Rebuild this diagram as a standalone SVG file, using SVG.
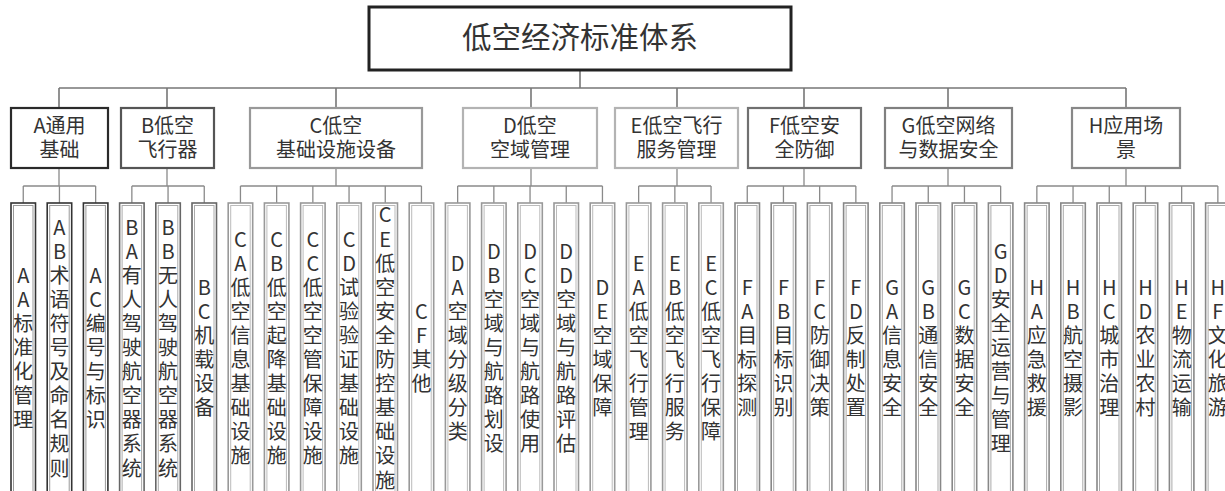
<svg xmlns="http://www.w3.org/2000/svg" width="1225" height="491" viewBox="0 0 1225 491">
<style>
text{font-family:"Noto Sans CJK SC","Noto Sans",sans-serif;fill:#333;text-anchor:middle}
.title{font-size:29.5px}
.cat{font-size:20px}
.lt{font-size:20px}
.conn{fill:none;stroke:#777;stroke-width:1.6}
.lconn{fill:none;stroke:#8a8a8a;stroke-width:1.3}
.cbox{fill:#fff;stroke-width:2.2}
.o{fill:#fff;stroke-width:1.6}
.i{fill:none;stroke-width:1}
.ga .o{stroke:#333}.ga .i{stroke:#999}
.gb .o{stroke:#666}.gb .i{stroke:#aaa}
.gc .o{stroke:#999}.gc .i{stroke:#bbb}
.gf .o{stroke:#888}.gf .i{stroke:#aaa}
</style>
<rect width="1225" height="491" fill="#fff"/>
<g id="connectors">
<path class="conn" d="M580 70V88M59 88H1126M59 88V108M167 88V108M336 88V108M531 88V108M677 88V108M804 88V108M948 88V108M1126 88V108"/>
<path class="lconn" d="M59 168V186M23.25 186H95.65M23.25 186V203M59.45 186V203M95.65 186V203
M167 168V186M131.85 186H204.25M131.85 186V203M168.05 186V203M204.25 186V203
M336 168V186M240.45 186H421.45M240.45 186V203M276.65 186V203M312.85 186V203M349.05 186V203M385.25 186V203M421.45 186V203
M531 168V186M457.65 186H602.45M457.65 186V203M493.85 186V203M530.05 186V203M566.25 186V203M602.45 186V203
M677 168V186M638.65 186H711.05M638.65 186V203M674.85 186V203M711.05 186V203
M804 168V186M747.25 186H855.85M747.25 186V203M783.45 186V203M819.65 186V203M855.85 186V203
M948 168V186M892.05 186H1000.65M892.05 186V203M928.25 186V203M964.45 186V203M1000.65 186V203
M1126 168V186M1036.85 186H1217.85M1036.85 186V203M1073.05 186V203M1109.25 186V203M1145.45 186V203M1181.65 186V203M1217.85 186V203"/>
</g>
<g id="root">
<rect x="369" y="7" width="422" height="63" fill="#fff" stroke="#222" stroke-width="3"/>
<text class="title" x="580" y="48">低空经济标准体系</text>
</g>
<g id="A"><rect class="cbox" x="11" y="108" width="97" height="60" stroke="#2a2a2a"/><text class="cat" x="59.5" y="133">A通用</text><text class="cat" x="59.5" y="157">基础</text></g>
<g id="B"><rect class="cbox" x="121" y="108" width="93" height="60" stroke="#555"/><text class="cat" x="167.5" y="133">B低空</text><text class="cat" x="167.5" y="157">飞行器</text></g>
<g id="C"><rect class="cbox" x="250" y="108" width="172" height="60" stroke="#999"/><text class="cat" x="336" y="133">C低空</text><text class="cat" x="336" y="157">基础设施设备</text></g>
<g id="D"><rect class="cbox" x="463" y="108" width="134" height="60" stroke="#b3b3b3"/><text class="cat" x="530" y="133">D低空</text><text class="cat" x="530" y="157">空域管理</text></g>
<g id="E"><rect class="cbox" x="615" y="108" width="123" height="60" stroke="#b3b3b3"/><text class="cat" x="676.5" y="133">E低空飞行</text><text class="cat" x="676.5" y="157">服务管理</text></g>
<g id="F"><rect class="cbox" x="748" y="108" width="113" height="60" stroke="#707070"/><text class="cat" x="804.5" y="133">F低空安</text><text class="cat" x="804.5" y="157">全防御</text></g>
<g id="G"><rect class="cbox" x="885" y="108" width="127" height="60" stroke="#808080"/><text class="cat" x="948.5" y="133">G低空网络</text><text class="cat" x="948.5" y="157">与数据安全</text></g>
<g id="H"><rect class="cbox" x="1072" y="108" width="108" height="60" stroke="#888"/><text class="cat" x="1126" y="133">H应用场</text><text class="cat" x="1126" y="157">景</text></g>

<g id="AA" class="ga"><rect class="o" x="11" y="203" width="24.5" height="300"/><rect class="i" x="13.5" y="205.5" width="19.5" height="300"/><text class="lt"><tspan x="23.25" y="282.7">A</tspan><tspan x="23.25" dy="24.1">A</tspan><tspan x="23.25" dy="24.1">标</tspan><tspan x="23.25" dy="24.1">准</tspan><tspan x="23.25" dy="24.1">化</tspan><tspan x="23.25" dy="24.1">管</tspan><tspan x="23.25" dy="24.1">理</tspan></text></g>
<g id="AB" class="ga"><rect class="o" x="47.2" y="203" width="24.5" height="300"/><rect class="i" x="49.7" y="205.5" width="19.5" height="300"/><text class="lt"><tspan x="59.45" y="234.5">A</tspan><tspan x="59.45" dy="24.1">B</tspan><tspan x="59.45" dy="24.1">术</tspan><tspan x="59.45" dy="24.1">语</tspan><tspan x="59.45" dy="24.1">符</tspan><tspan x="59.45" dy="24.1">号</tspan><tspan x="59.45" dy="24.1">及</tspan><tspan x="59.45" dy="24.1">命</tspan><tspan x="59.45" dy="24.1">名</tspan><tspan x="59.45" dy="24.1">规</tspan><tspan x="59.45" dy="24.1">则</tspan></text></g>
<g id="AC" class="ga"><rect class="o" x="83.4" y="203" width="24.5" height="300"/><rect class="i" x="85.9" y="205.5" width="19.5" height="300"/><text class="lt"><tspan x="95.65" y="282.7">A</tspan><tspan x="95.65" dy="24.1">C</tspan><tspan x="95.65" dy="24.1">编</tspan><tspan x="95.65" dy="24.1">号</tspan><tspan x="95.65" dy="24.1">与</tspan><tspan x="95.65" dy="24.1">标</tspan><tspan x="95.65" dy="24.1">识</tspan></text></g>

<g id="BA" class="gb"><rect class="o" x="119.6" y="203" width="24.5" height="300"/><rect class="i" x="122.1" y="205.5" width="19.5" height="300"/><text class="lt"><tspan x="131.85" y="234.5">B</tspan><tspan x="131.85" dy="24.1">A</tspan><tspan x="131.85" dy="24.1">有</tspan><tspan x="131.85" dy="24.1">人</tspan><tspan x="131.85" dy="24.1">驾</tspan><tspan x="131.85" dy="24.1">驶</tspan><tspan x="131.85" dy="24.1">航</tspan><tspan x="131.85" dy="24.1">空</tspan><tspan x="131.85" dy="24.1">器</tspan><tspan x="131.85" dy="24.1">系</tspan><tspan x="131.85" dy="24.1">统</tspan></text></g>
<g id="BB" class="gb"><rect class="o" x="155.8" y="203" width="24.5" height="300"/><rect class="i" x="158.3" y="205.5" width="19.5" height="300"/><text class="lt"><tspan x="168.05" y="234.5">B</tspan><tspan x="168.05" dy="24.1">B</tspan><tspan x="168.05" dy="24.1">无</tspan><tspan x="168.05" dy="24.1">人</tspan><tspan x="168.05" dy="24.1">驾</tspan><tspan x="168.05" dy="24.1">驶</tspan><tspan x="168.05" dy="24.1">航</tspan><tspan x="168.05" dy="24.1">空</tspan><tspan x="168.05" dy="24.1">器</tspan><tspan x="168.05" dy="24.1">系</tspan><tspan x="168.05" dy="24.1">统</tspan></text></g>
<g id="BC" class="gb"><rect class="o" x="192" y="203" width="24.5" height="300"/><rect class="i" x="194.5" y="205.5" width="19.5" height="300"/><text class="lt"><tspan x="204.25" y="294.75">B</tspan><tspan x="204.25" dy="24.1">C</tspan><tspan x="204.25" dy="24.1">机</tspan><tspan x="204.25" dy="24.1">载</tspan><tspan x="204.25" dy="24.1">设</tspan><tspan x="204.25" dy="24.1">备</tspan></text></g>

<g id="CA" class="gc"><rect class="o" x="228.2" y="203" width="24.5" height="300"/><rect class="i" x="230.7" y="205.5" width="19.5" height="300"/><text class="lt"><tspan x="240.45" y="246.55">C</tspan><tspan x="240.45" dy="24.1">A</tspan><tspan x="240.45" dy="24.1">低</tspan><tspan x="240.45" dy="24.1">空</tspan><tspan x="240.45" dy="24.1">信</tspan><tspan x="240.45" dy="24.1">息</tspan><tspan x="240.45" dy="24.1">基</tspan><tspan x="240.45" dy="24.1">础</tspan><tspan x="240.45" dy="24.1">设</tspan><tspan x="240.45" dy="24.1">施</tspan></text></g>
<g id="CB" class="gc"><rect class="o" x="264.4" y="203" width="24.5" height="300"/><rect class="i" x="266.9" y="205.5" width="19.5" height="300"/><text class="lt"><tspan x="276.65" y="246.55">C</tspan><tspan x="276.65" dy="24.1">B</tspan><tspan x="276.65" dy="24.1">低</tspan><tspan x="276.65" dy="24.1">空</tspan><tspan x="276.65" dy="24.1">起</tspan><tspan x="276.65" dy="24.1">降</tspan><tspan x="276.65" dy="24.1">基</tspan><tspan x="276.65" dy="24.1">础</tspan><tspan x="276.65" dy="24.1">设</tspan><tspan x="276.65" dy="24.1">施</tspan></text></g>
<g id="CC" class="gc"><rect class="o" x="300.6" y="203" width="24.5" height="300"/><rect class="i" x="303.1" y="205.5" width="19.5" height="300"/><text class="lt"><tspan x="312.85" y="246.55">C</tspan><tspan x="312.85" dy="24.1">C</tspan><tspan x="312.85" dy="24.1">低</tspan><tspan x="312.85" dy="24.1">空</tspan><tspan x="312.85" dy="24.1">空</tspan><tspan x="312.85" dy="24.1">管</tspan><tspan x="312.85" dy="24.1">保</tspan><tspan x="312.85" dy="24.1">障</tspan><tspan x="312.85" dy="24.1">设</tspan><tspan x="312.85" dy="24.1">施</tspan></text></g>
<g id="CD" class="gc"><rect class="o" x="336.8" y="203" width="24.5" height="300"/><rect class="i" x="339.3" y="205.5" width="19.5" height="300"/><text class="lt"><tspan x="349.05" y="246.55">C</tspan><tspan x="349.05" dy="24.1">D</tspan><tspan x="349.05" dy="24.1">试</tspan><tspan x="349.05" dy="24.1">验</tspan><tspan x="349.05" dy="24.1">验</tspan><tspan x="349.05" dy="24.1">证</tspan><tspan x="349.05" dy="24.1">基</tspan><tspan x="349.05" dy="24.1">础</tspan><tspan x="349.05" dy="24.1">设</tspan><tspan x="349.05" dy="24.1">施</tspan></text></g>
<g id="CE" class="gc"><rect class="o" x="373" y="203" width="24.5" height="300"/><rect class="i" x="375.5" y="205.5" width="19.5" height="300"/><text class="lt"><tspan x="385.25" y="222.45">C</tspan><tspan x="385.25" dy="24.1">E</tspan><tspan x="385.25" dy="24.1">低</tspan><tspan x="385.25" dy="24.1">空</tspan><tspan x="385.25" dy="24.1">安</tspan><tspan x="385.25" dy="24.1">全</tspan><tspan x="385.25" dy="24.1">防</tspan><tspan x="385.25" dy="24.1">控</tspan><tspan x="385.25" dy="24.1">基</tspan><tspan x="385.25" dy="24.1">础</tspan><tspan x="385.25" dy="24.1">设</tspan><tspan x="385.25" dy="24.1">施</tspan></text></g>
<g id="CF" class="gc"><rect class="o" x="409.2" y="203" width="24.5" height="300"/><rect class="i" x="411.7" y="205.5" width="19.5" height="300"/><text class="lt"><tspan x="421.45" y="318.85">C</tspan><tspan x="421.45" dy="24.1">F</tspan><tspan x="421.45" dy="24.1">其</tspan><tspan x="421.45" dy="24.1">他</tspan></text></g>

<g id="DA" class="gc"><rect class="o" x="445.4" y="203" width="24.5" height="300"/><rect class="i" x="447.9" y="205.5" width="19.5" height="300"/><text class="lt"><tspan x="457.65" y="270.65">D</tspan><tspan x="457.65" dy="24.1">A</tspan><tspan x="457.65" dy="24.1">空</tspan><tspan x="457.65" dy="24.1">域</tspan><tspan x="457.65" dy="24.1">分</tspan><tspan x="457.65" dy="24.1">级</tspan><tspan x="457.65" dy="24.1">分</tspan><tspan x="457.65" dy="24.1">类</tspan></text></g>
<g id="DB" class="gc"><rect class="o" x="481.6" y="203" width="24.5" height="300"/><rect class="i" x="484.1" y="205.5" width="19.5" height="300"/><text class="lt"><tspan x="493.85" y="258.6">D</tspan><tspan x="493.85" dy="24.1">B</tspan><tspan x="493.85" dy="24.1">空</tspan><tspan x="493.85" dy="24.1">域</tspan><tspan x="493.85" dy="24.1">与</tspan><tspan x="493.85" dy="24.1">航</tspan><tspan x="493.85" dy="24.1">路</tspan><tspan x="493.85" dy="24.1">划</tspan><tspan x="493.85" dy="24.1">设</tspan></text></g>
<g id="DC" class="gc"><rect class="o" x="517.8" y="203" width="24.5" height="300"/><rect class="i" x="520.3" y="205.5" width="19.5" height="300"/><text class="lt"><tspan x="530.05" y="258.6">D</tspan><tspan x="530.05" dy="24.1">C</tspan><tspan x="530.05" dy="24.1">空</tspan><tspan x="530.05" dy="24.1">域</tspan><tspan x="530.05" dy="24.1">与</tspan><tspan x="530.05" dy="24.1">航</tspan><tspan x="530.05" dy="24.1">路</tspan><tspan x="530.05" dy="24.1">使</tspan><tspan x="530.05" dy="24.1">用</tspan></text></g>
<g id="DD" class="gc"><rect class="o" x="554" y="203" width="24.5" height="300"/><rect class="i" x="556.5" y="205.5" width="19.5" height="300"/><text class="lt"><tspan x="566.25" y="258.6">D</tspan><tspan x="566.25" dy="24.1">D</tspan><tspan x="566.25" dy="24.1">空</tspan><tspan x="566.25" dy="24.1">域</tspan><tspan x="566.25" dy="24.1">与</tspan><tspan x="566.25" dy="24.1">航</tspan><tspan x="566.25" dy="24.1">路</tspan><tspan x="566.25" dy="24.1">评</tspan><tspan x="566.25" dy="24.1">估</tspan></text></g>
<g id="DE" class="gc"><rect class="o" x="590.2" y="203" width="24.5" height="300"/><rect class="i" x="592.7" y="205.5" width="19.5" height="300"/><text class="lt"><tspan x="602.45" y="294.75">D</tspan><tspan x="602.45" dy="24.1">E</tspan><tspan x="602.45" dy="24.1">空</tspan><tspan x="602.45" dy="24.1">域</tspan><tspan x="602.45" dy="24.1">保</tspan><tspan x="602.45" dy="24.1">障</tspan></text></g>

<g id="EA" class="gc"><rect class="o" x="626.4" y="203" width="24.5" height="300"/><rect class="i" x="628.9" y="205.5" width="19.5" height="300"/><text class="lt"><tspan x="638.65" y="270.65">E</tspan><tspan x="638.65" dy="24.1">A</tspan><tspan x="638.65" dy="24.1">低</tspan><tspan x="638.65" dy="24.1">空</tspan><tspan x="638.65" dy="24.1">飞</tspan><tspan x="638.65" dy="24.1">行</tspan><tspan x="638.65" dy="24.1">管</tspan><tspan x="638.65" dy="24.1">理</tspan></text></g>
<g id="EB" class="gc"><rect class="o" x="662.6" y="203" width="24.5" height="300"/><rect class="i" x="665.1" y="205.5" width="19.5" height="300"/><text class="lt"><tspan x="674.85" y="270.65">E</tspan><tspan x="674.85" dy="24.1">B</tspan><tspan x="674.85" dy="24.1">低</tspan><tspan x="674.85" dy="24.1">空</tspan><tspan x="674.85" dy="24.1">飞</tspan><tspan x="674.85" dy="24.1">行</tspan><tspan x="674.85" dy="24.1">服</tspan><tspan x="674.85" dy="24.1">务</tspan></text></g>
<g id="EC" class="gc"><rect class="o" x="698.8" y="203" width="24.5" height="300"/><rect class="i" x="701.3" y="205.5" width="19.5" height="300"/><text class="lt"><tspan x="711.05" y="270.65">E</tspan><tspan x="711.05" dy="24.1">C</tspan><tspan x="711.05" dy="24.1">低</tspan><tspan x="711.05" dy="24.1">空</tspan><tspan x="711.05" dy="24.1">飞</tspan><tspan x="711.05" dy="24.1">行</tspan><tspan x="711.05" dy="24.1">保</tspan><tspan x="711.05" dy="24.1">障</tspan></text></g>

<g id="FA" class="gf"><rect class="o" x="735" y="203" width="24.5" height="300"/><rect class="i" x="737.5" y="205.5" width="19.5" height="300"/><text class="lt"><tspan x="747.25" y="294.75">F</tspan><tspan x="747.25" dy="24.1">A</tspan><tspan x="747.25" dy="24.1">目</tspan><tspan x="747.25" dy="24.1">标</tspan><tspan x="747.25" dy="24.1">探</tspan><tspan x="747.25" dy="24.1">测</tspan></text></g>
<g id="FB" class="gf"><rect class="o" x="771.2" y="203" width="24.5" height="300"/><rect class="i" x="773.7" y="205.5" width="19.5" height="300"/><text class="lt"><tspan x="783.45" y="294.75">F</tspan><tspan x="783.45" dy="24.1">B</tspan><tspan x="783.45" dy="24.1">目</tspan><tspan x="783.45" dy="24.1">标</tspan><tspan x="783.45" dy="24.1">识</tspan><tspan x="783.45" dy="24.1">别</tspan></text></g>
<g id="FC" class="gf"><rect class="o" x="807.4" y="203" width="24.5" height="300"/><rect class="i" x="809.9" y="205.5" width="19.5" height="300"/><text class="lt"><tspan x="819.65" y="294.75">F</tspan><tspan x="819.65" dy="24.1">C</tspan><tspan x="819.65" dy="24.1">防</tspan><tspan x="819.65" dy="24.1">御</tspan><tspan x="819.65" dy="24.1">决</tspan><tspan x="819.65" dy="24.1">策</tspan></text></g>
<g id="FD" class="gf"><rect class="o" x="843.6" y="203" width="24.5" height="300"/><rect class="i" x="846.1" y="205.5" width="19.5" height="300"/><text class="lt"><tspan x="855.85" y="294.75">F</tspan><tspan x="855.85" dy="24.1">D</tspan><tspan x="855.85" dy="24.1">反</tspan><tspan x="855.85" dy="24.1">制</tspan><tspan x="855.85" dy="24.1">处</tspan><tspan x="855.85" dy="24.1">置</tspan></text></g>

<g id="GA" class="gf"><rect class="o" x="879.8" y="203" width="24.5" height="300"/><rect class="i" x="882.3" y="205.5" width="19.5" height="300"/><text class="lt"><tspan x="892.05" y="294.75">G</tspan><tspan x="892.05" dy="24.1">A</tspan><tspan x="892.05" dy="24.1">信</tspan><tspan x="892.05" dy="24.1">息</tspan><tspan x="892.05" dy="24.1">安</tspan><tspan x="892.05" dy="24.1">全</tspan></text></g>
<g id="GB" class="gf"><rect class="o" x="916" y="203" width="24.5" height="300"/><rect class="i" x="918.5" y="205.5" width="19.5" height="300"/><text class="lt"><tspan x="928.25" y="294.75">G</tspan><tspan x="928.25" dy="24.1">B</tspan><tspan x="928.25" dy="24.1">通</tspan><tspan x="928.25" dy="24.1">信</tspan><tspan x="928.25" dy="24.1">安</tspan><tspan x="928.25" dy="24.1">全</tspan></text></g>
<g id="GC" class="gf"><rect class="o" x="952.2" y="203" width="24.5" height="300"/><rect class="i" x="954.7" y="205.5" width="19.5" height="300"/><text class="lt"><tspan x="964.45" y="294.75">G</tspan><tspan x="964.45" dy="24.1">C</tspan><tspan x="964.45" dy="24.1">数</tspan><tspan x="964.45" dy="24.1">据</tspan><tspan x="964.45" dy="24.1">安</tspan><tspan x="964.45" dy="24.1">全</tspan></text></g>
<g id="GD" class="gf"><rect class="o" x="988.4" y="203" width="24.5" height="300"/><rect class="i" x="990.9" y="205.5" width="19.5" height="300"/><text class="lt"><tspan x="1000.65" y="258.6">G</tspan><tspan x="1000.65" dy="24.1">D</tspan><tspan x="1000.65" dy="24.1">安</tspan><tspan x="1000.65" dy="24.1">全</tspan><tspan x="1000.65" dy="24.1">运</tspan><tspan x="1000.65" dy="24.1">营</tspan><tspan x="1000.65" dy="24.1">与</tspan><tspan x="1000.65" dy="24.1">管</tspan><tspan x="1000.65" dy="24.1">理</tspan></text></g>

<g id="HA" class="gf"><rect class="o" x="1024.6" y="203" width="24.5" height="300"/><rect class="i" x="1027.1" y="205.5" width="19.5" height="300"/><text class="lt"><tspan x="1036.85" y="294.75">H</tspan><tspan x="1036.85" dy="24.1">A</tspan><tspan x="1036.85" dy="24.1">应</tspan><tspan x="1036.85" dy="24.1">急</tspan><tspan x="1036.85" dy="24.1">救</tspan><tspan x="1036.85" dy="24.1">援</tspan></text></g>
<g id="HB" class="gf"><rect class="o" x="1060.8" y="203" width="24.5" height="300"/><rect class="i" x="1063.3" y="205.5" width="19.5" height="300"/><text class="lt"><tspan x="1073.05" y="294.75">H</tspan><tspan x="1073.05" dy="24.1">B</tspan><tspan x="1073.05" dy="24.1">航</tspan><tspan x="1073.05" dy="24.1">空</tspan><tspan x="1073.05" dy="24.1">摄</tspan><tspan x="1073.05" dy="24.1">影</tspan></text></g>
<g id="HC" class="gf"><rect class="o" x="1097" y="203" width="24.5" height="300"/><rect class="i" x="1099.5" y="205.5" width="19.5" height="300"/><text class="lt"><tspan x="1109.25" y="294.75">H</tspan><tspan x="1109.25" dy="24.1">C</tspan><tspan x="1109.25" dy="24.1">城</tspan><tspan x="1109.25" dy="24.1">市</tspan><tspan x="1109.25" dy="24.1">治</tspan><tspan x="1109.25" dy="24.1">理</tspan></text></g>
<g id="HD" class="gf"><rect class="o" x="1133.2" y="203" width="24.5" height="300"/><rect class="i" x="1135.7" y="205.5" width="19.5" height="300"/><text class="lt"><tspan x="1145.45" y="294.75">H</tspan><tspan x="1145.45" dy="24.1">D</tspan><tspan x="1145.45" dy="24.1">农</tspan><tspan x="1145.45" dy="24.1">业</tspan><tspan x="1145.45" dy="24.1">农</tspan><tspan x="1145.45" dy="24.1">村</tspan></text></g>
<g id="HE" class="gf"><rect class="o" x="1169.4" y="203" width="24.5" height="300"/><rect class="i" x="1171.9" y="205.5" width="19.5" height="300"/><text class="lt"><tspan x="1181.65" y="294.75">H</tspan><tspan x="1181.65" dy="24.1">E</tspan><tspan x="1181.65" dy="24.1">物</tspan><tspan x="1181.65" dy="24.1">流</tspan><tspan x="1181.65" dy="24.1">运</tspan><tspan x="1181.65" dy="24.1">输</tspan></text></g>
<g id="HF" class="gf"><rect class="o" x="1205.6" y="203" width="24.5" height="300"/><rect class="i" x="1208.1" y="205.5" width="19.5" height="300"/><text class="lt"><tspan x="1217.85" y="294.75">H</tspan><tspan x="1217.85" dy="24.1">F</tspan><tspan x="1217.85" dy="24.1">文</tspan><tspan x="1217.85" dy="24.1">化</tspan><tspan x="1217.85" dy="24.1">旅</tspan><tspan x="1217.85" dy="24.1">游</tspan></text></g>
</svg>
